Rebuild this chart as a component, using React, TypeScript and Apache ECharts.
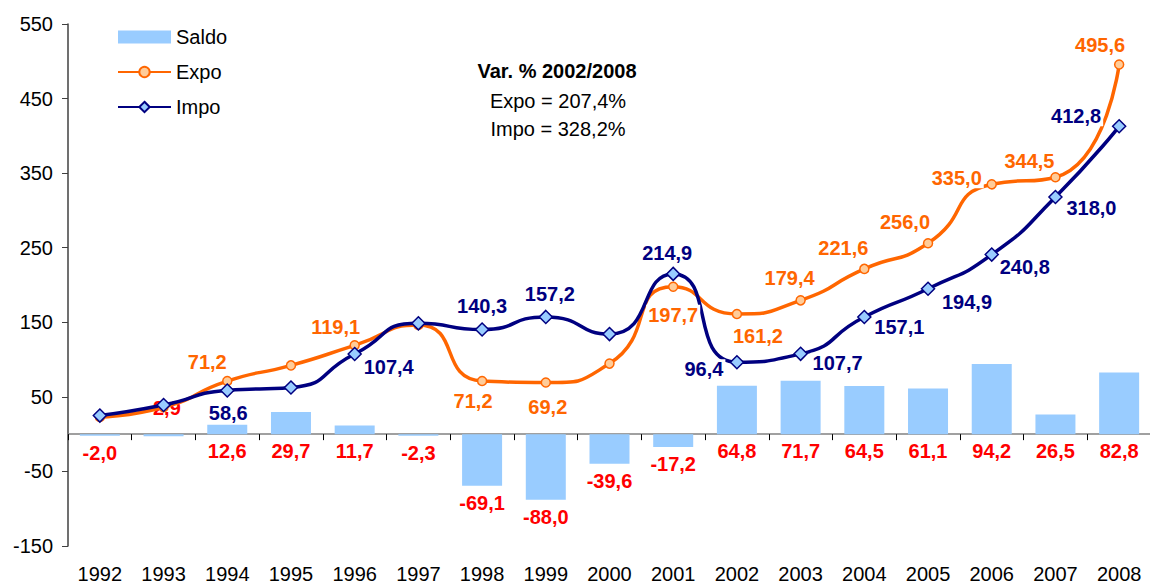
import React, { useEffect, useRef } from 'react';
import * as echarts from 'echarts';

const years = ['1992', '1993', '1994', '1995', '1996', '1997', '1998', '1999', '2000', '2001', '2002', '2003', '2004', '2005', '2006', '2007', '2008'];
const saldo = [-2.0, -2.9, 12.6, 29.7, 11.7, -2.3, -69.1, -88.0, -39.6, -17.2, 64.8, 71.7, 64.5, 61.1, 94.2, 26.5, 82.8];
const expo = [22.9, 36.1, 71.2, 92.2, 119.1, 146.3, 71.2, 69.2, 94.6, 197.7, 161.2, 179.4, 221.6, 256.0, 335.0, 344.5, 495.6];
const impo = [24.9, 39.0, 58.6, 62.5, 107.4, 148.6, 140.3, 157.2, 134.2, 214.9, 96.4, 107.7, 157.1, 194.9, 240.8, 318.0, 412.8];

const yMin = -150;
const yMax = 550;
const yInterval = 100;

const noteTitle = 'Var. % 2002/2008';
const noteLines = ['Expo = 207,4%', 'Impo = 328,2%'];

// label placement (style only)
type Off = [number, number] | null;
const expoLabelOffsets: Off[] = [null, null, [-20, -19], null, [-19, -18], null, [-9, 20], [2, 24], null, [0, 28], [21, 22], [-11, -22], [-21, -21], [-23, -21], [-35, -6], [-26, -16], [-19, -20]];
const impoLabelOffsets: Off[] = [null, null, [1, 23], null, [34, 13], null, [0, -24], [4, -23], null, [-6, -21], [-33, 7], [37, 9], [35, 10], [39, 13], [33, 12], [36, 11], [-43, -10]];
const saldoLabelAbove = [false, true, false, false, false, false, false, false, false, false, false, false, false, false, false, false, false];

const FONT = '"Liberation Sans", Arial, sans-serif';
const fmt = (v: number) => v.toFixed(1).replace('.', ',');

export default function App() {
  const ref = useRef<HTMLDivElement>(null);
  useEffect(() => {
    if (!ref.current) return;
    const chart = echarts.init(ref.current, null, { renderer: 'svg' });
    const lineLabel = (color: string) => ({
      position: 'inside',
      color,
      fontWeight: 'bold',
      fontSize: 20,
      fontFamily: FONT,
      backgroundColor: '#ffffff',
      padding: [0, 2],
      formatter: (p: any) => fmt(p.value),
    });
    chart.setOption({
      animation: false,
      textStyle: { fontFamily: FONT },
      grid: { left: 68, top: 24, width: 1083, height: 522, containLabel: false, outerBoundsMode: 'none' },
      legend: {
        orient: 'vertical',
        left: 112,
        top: 22,
        itemWidth: 53,
        itemHeight: 13,
        itemGap: 15,
        textStyle: { fontSize: 20, color: '#000', fontFamily: FONT },
        data: [
          { name: 'Saldo', icon: 'rect' },
          { name: 'Expo' },
          { name: 'Impo' },
        ],
      },
      graphic: [
        { type: 'text', x: 557, y: 71, style: { text: noteTitle, fill: '#000', fontSize: 20, fontWeight: 'bold', fontFamily: FONT, align: 'center', verticalAlign: 'middle' } },
        { type: 'text', x: 558, y: 101, style: { text: noteLines[0], fill: '#000', fontSize: 20, fontFamily: FONT, align: 'center', verticalAlign: 'middle' } },
        { type: 'text', x: 558, y: 129, style: { text: noteLines[1], fill: '#000', fontSize: 20, fontFamily: FONT, align: 'center', verticalAlign: 'middle' } },
      ],
      xAxis: {
        type: 'category',
        data: years,
        boundaryGap: true,
        axisLine: { onZero: true, lineStyle: { color: '#808080', width: 1.5 } },
        axisTick: { show: true, length: 6, lineStyle: { color: '#000' } },
        axisLabel: { margin: 18, color: '#000', fontSize: 20, fontFamily: FONT },
        splitLine: { show: false },
      },
      yAxis: {
        type: 'value',
        min: yMin,
        max: yMax,
        interval: yInterval,
        axisLine: { show: true, lineStyle: { color: '#404040', width: 1.5 } },
        axisTick: { show: true, length: 6, lineStyle: { color: '#404040' } },
        axisLabel: { margin: 15, color: '#000', fontSize: 20, fontFamily: FONT },
        splitLine: { show: false },
      },
      series: [
        {
          name: 'Saldo',
          type: 'bar',
          barWidth: 40,
          itemStyle: { color: '#99CCFF' },
          label: {
            show: true,
            position: 'bottom',
            distance: 7,
            color: '#FF0000',
            fontWeight: 'bold',
            fontSize: 20,
            fontFamily: FONT,
            formatter: (p: any) => fmt(p.value),
          },
          data: saldo.map((v, i) =>
            saldoLabelAbove[i] ? { value: v, label: { position: 'top', distance: 16 } } : v
          ),
        },
        {
          name: 'Expo',
          type: 'line',
          smooth: 0.6,
          symbol: 'circle',
          symbolSize: 9,
          lineStyle: { color: '#FF6600', width: 3.5 },
          itemStyle: { color: '#FFCC99', borderColor: '#FF6600', borderWidth: 1.5 },
          label: lineLabel('#FF6600'),
          data: expo.map((v, i) => ({
            value: v,
            label: expoLabelOffsets[i] ? { show: true, offset: expoLabelOffsets[i] } : { show: false },
          })),
        },
        {
          name: 'Impo',
          type: 'line',
          smooth: 0.6,
          symbol: 'diamond',
          symbolSize: 13,
          lineStyle: { color: '#000080', width: 3.5 },
          itemStyle: { color: '#99CCFF', borderColor: '#000080', borderWidth: 1.5 },
          label: lineLabel('#000080'),
          data: impo.map((v, i) => ({
            value: v,
            label: impoLabelOffsets[i] ? { show: true, offset: impoLabelOffsets[i] } : { show: false },
          })),
        },
      ],
    });
    return () => chart.dispose();
  }, []);
  return <div ref={ref} style={{ position: 'fixed', left: 0, top: 0, width: 1150, height: 585, background: '#fff' }} />;
}
